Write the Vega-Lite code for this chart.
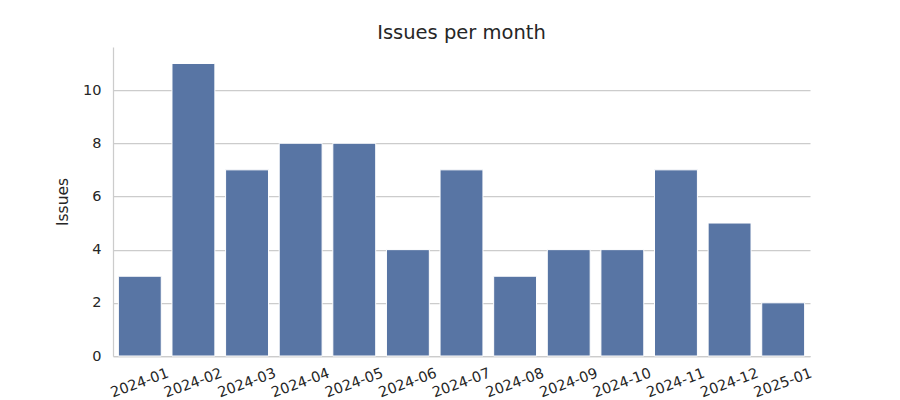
{
  "$schema": "https://vega.github.io/schema/vega-lite/v6.json",
  "width": 697,
  "height": 309,
  "autosize": {"type": "none"},
  "padding": {"left": 113, "top": 47, "right": 90, "bottom": 44},
  "background": "white",
  "title": {"text": "Issues per month", "fontSize": 19.5, "font": "DejaVu Sans", "fontWeight": "normal", "color": "#262626", "offset": 4},
  "data": {"values": [
    {"month": "2024-01", "issues": 3},
    {"month": "2024-02", "issues": 11},
    {"month": "2024-03", "issues": 7},
    {"month": "2024-04", "issues": 8},
    {"month": "2024-05", "issues": 8},
    {"month": "2024-06", "issues": 4},
    {"month": "2024-07", "issues": 7},
    {"month": "2024-08", "issues": 3},
    {"month": "2024-09", "issues": 4},
    {"month": "2024-10", "issues": 4},
    {"month": "2024-11", "issues": 7},
    {"month": "2024-12", "issues": 5},
    {"month": "2025-01", "issues": 2}
  ]},
  "config": {
    "view": {"stroke": null},
    "font": "DejaVu Sans"
  },
  "mark": {"type": "bar", "color": "#5875a4", "stroke": "white", "strokeWidth": 1},
  "encoding": {
    "x": {
      "field": "month", "type": "ordinal", "sort": null,
      "scale": {"paddingInner": 0.2, "paddingOuter": 0.1},
      "axis": {"title": null, "labelAngle": -20, "labelAlign": "center", "labelBaseline": "middle", "labelFontSize": 14.5, "labelColor": "#262626", "ticks": false, "labelPadding": 27, "domainColor": "#cccccc", "domainWidth": 1.25, "grid": false}
    },
    "y": {
      "field": "issues", "type": "quantitative",
      "scale": {"domain": [0, 11.62], "nice": false},
      "axis": {"title": "Issues", "titleFontSize": 15.5, "titleFontWeight": "normal", "titleColor": "#262626", "titlePadding": 12, "values": [0, 2, 4, 6, 8, 10], "labelFontSize": 14.5, "labelColor": "#262626", "ticks": false, "labelPadding": 12, "domainColor": "#cccccc", "domainWidth": 1.25, "gridColor": "#cccccc", "gridWidth": 1.25}
    }
  }
}
